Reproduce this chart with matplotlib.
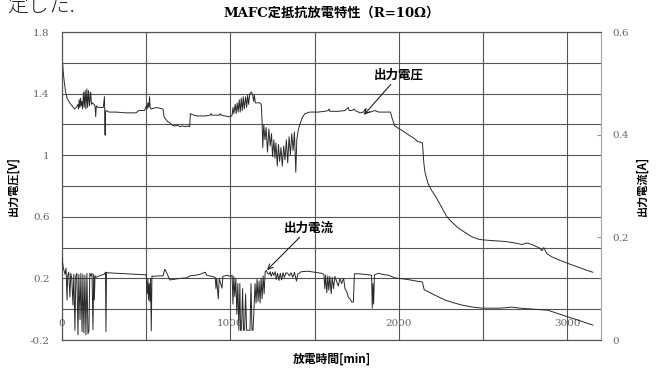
import numpy as np
import matplotlib
matplotlib.use("Agg")
import matplotlib.pyplot as plt

plt.rcParams['font.family'] = ['Noto Sans CJK JP', 'DejaVu Sans']

# discharge time [min] and output voltage [V]
volt_t = [0, 6, 12, 20, 30, 45, 60, 75, 85, 95,
          98, 102, 106, 110, 114, 118, 122, 128, 132, 138, 142, 148, 152, 158, 163, 170, 175,
          180, 190, 196, 200, 204, 215, 230, 245, 252, 254, 256, 258, 262, 280, 320, 380, 440,
          455, 490, 500, 505, 510, 515, 520, 523, 530, 560, 600, 606, 612, 625, 640, 655, 670,
          685, 700, 715, 730, 745, 758, 762, 770, 800, 850, 880, 885, 890, 935, 940, 945, 990,
          1000, 1010, 1015, 1020, 1028, 1034, 1040, 1046, 1052, 1058, 1064, 1070, 1076, 1082,
          1090, 1096, 1102, 1108, 1115, 1125, 1132, 1138, 1142, 1148, 1160, 1175, 1183, 1188,
          1192, 1198, 1205, 1212, 1220, 1228, 1236, 1244, 1250, 1258, 1264, 1270, 1278, 1285,
          1292, 1300, 1308, 1316, 1324, 1332, 1340, 1348, 1356, 1364, 1372, 1380, 1388, 1394,
          1402, 1412, 1425, 1442, 1472, 1520, 1560, 1580, 1585, 1590, 1640, 1680, 1700, 1705,
          1720, 1735, 1740, 1760, 1770, 1790, 1800, 1806, 1830, 1858, 1880, 1950, 1960, 1975,
          1990, 2020, 2060, 2090, 2110, 2140, 2148, 2155, 2172, 2195, 2214, 2250, 2285, 2320,
          2350, 2390, 2433, 2470, 2500, 2560, 2630, 2690, 2730, 2760, 2790, 2830, 2850, 2860,
          2880, 2908, 2950, 2997, 3060, 3110, 3151]
volt_v = [1.66, 1.56, 1.49, 1.42, 1.37, 1.34, 1.32, 1.30, 1.31, 1.33,
          1.30, 1.36, 1.31, 1.37, 1.32, 1.35, 1.30, 1.41, 1.31, 1.42, 1.30, 1.43, 1.31, 1.42, 1.32, 1.41, 1.33,
          1.34, 1.33, 1.32, 1.25, 1.32, 1.31, 1.31, 1.31, 1.38, 1.27, 1.13, 1.28, 1.29, 1.28, 1.28, 1.275, 1.275,
          1.29, 1.29, 1.32, 1.30, 1.34, 1.31, 1.38, 1.31, 1.30, 1.31, 1.30, 1.25, 1.24, 1.22, 1.21, 1.195, 1.19,
          1.195, 1.185, 1.19, 1.185, 1.19, 1.185, 1.27, 1.265, 1.255, 1.255, 1.26, 1.27, 1.26, 1.26, 1.27, 1.26, 1.25,
          1.25, 1.26, 1.31, 1.27, 1.33, 1.27, 1.34, 1.28, 1.36, 1.28, 1.37, 1.29, 1.38, 1.30,
          1.38, 1.31, 1.39, 1.33, 1.40, 1.41, 1.39, 1.35, 1.39, 1.34, 1.34, 1.34, 1.33, 1.22,
          1.05, 1.20, 1.10, 1.18, 1.02, 1.17, 1.06, 1.14, 0.99, 1.10, 0.98, 1.08, 0.93, 1.07,
          0.96, 1.05, 0.93, 1.06, 0.97, 1.10, 0.95, 1.12, 1.00, 1.14, 1.03, 1.15, 0.89, 1.10,
          1.16, 1.20, 1.24, 1.27, 1.28, 1.28, 1.285, 1.29, 1.30, 1.285, 1.285, 1.29, 1.31, 1.29,
          1.29, 1.30, 1.29, 1.28, 1.275, 1.28, 1.30, 1.275, 1.28, 1.29, 1.28, 1.28, 1.24, 1.19,
          1.18, 1.16, 1.13, 1.11, 1.09, 1.08, 0.95, 0.89, 0.82, 0.77, 0.74, 0.67, 0.60, 0.56,
          0.53, 0.50, 0.47, 0.455, 0.45, 0.445, 0.44, 0.43, 0.42, 0.43, 0.42, 0.40, 0.38, 0.40,
          0.36, 0.34, 0.32, 0.30, 0.275, 0.255, 0.24]

# discharge time [min] and output current [A]
curr_t = [0, 4, 8, 12, 18, 24, 30, 34, 40, 47, 52, 58, 65, 70, 77, 82, 88, 95, 100, 107,
          112, 119, 124, 130, 136, 142, 148, 154, 160, 165, 172, 178, 184, 188, 192, 196, 202,
          215, 230, 250, 258, 261, 264, 270, 320, 380, 440, 500, 506, 510, 514, 518, 522, 526,
          530, 534, 540, 580, 600, 610, 620, 640, 660, 700, 740, 760, 790, 820, 850, 860, 890,
          910, 914, 918, 928, 933, 950, 955, 980, 1000, 1010, 1015, 1020, 1026, 1032, 1038,
          1044, 1050, 1056, 1060, 1066, 1072, 1078, 1084, 1090, 1096, 1104, 1110, 1116, 1122,
          1128, 1134, 1140, 1146, 1152, 1158, 1164, 1170, 1176, 1182, 1188, 1194, 1200, 1206,
          1212, 1220, 1230, 1236, 1242, 1250, 1258, 1266, 1272, 1280, 1288, 1296, 1304, 1312,
          1320, 1330, 1340, 1350, 1360, 1370, 1380, 1392, 1400, 1420, 1460, 1500, 1540, 1555,
          1560, 1565, 1572, 1578, 1584, 1590, 1598, 1604, 1612, 1620, 1640, 1650, 1660, 1672,
          1680, 1690, 1700, 1710, 1720, 1730, 1736, 1760, 1790, 1820, 1838, 1842, 1846, 1850,
          1855, 1880, 1900, 1940, 1976, 2000, 2050, 2100, 2140, 2150, 2175, 2210, 2273, 2320,
          2374, 2440, 2500, 2600, 2671, 2720, 2800, 2884, 2940, 3003, 3080, 3151]
curr_a = [0.160, 0.150, 0.140, 0.135, 0.128, 0.140, 0.078, 0.125, 0.132, 0.084, 0.130, 0.120, 0.068, 0.128, 0.019, 0.125, 0.130, 0.010, 0.128, 0.040,
          0.130, 0.016, 0.128, 0.014, 0.126, 0.010, 0.130, 0.012, 0.018, 0.130, 0.125, 0.130, 0.020, 0.128, 0.078, 0.125, 0.122,
          0.124, 0.126, 0.128, 0.132, 0.016, 0.132, 0.131, 0.130, 0.129, 0.128, 0.127, 0.090, 0.120, 0.078, 0.110, 0.075, 0.120,
          0.018, 0.125, 0.124, 0.125, 0.125, 0.138, 0.132, 0.117, 0.118, 0.120, 0.121, 0.125, 0.126, 0.128, 0.132, 0.126, 0.124,
          0.122, 0.100, 0.120, 0.080, 0.120, 0.101, 0.124, 0.126, 0.124, 0.126, 0.070, 0.124, 0.085, 0.120, 0.050,
          0.110, 0.019, 0.110, 0.019, 0.019, 0.100, 0.019, 0.019, 0.090, 0.019, 0.019, 0.019, 0.019, 0.110,
          0.019, 0.019, 0.060, 0.110, 0.072, 0.118, 0.075, 0.115, 0.072, 0.120, 0.080, 0.125, 0.090, 0.132,
          0.136, 0.130, 0.128, 0.133, 0.124, 0.132, 0.126, 0.133, 0.118, 0.130, 0.116, 0.130, 0.117, 0.131,
          0.122, 0.131, 0.130, 0.125, 0.131, 0.122, 0.132, 0.115, 0.128, 0.133, 0.134, 0.132, 0.130, 0.128,
          0.100, 0.126, 0.092, 0.125, 0.097, 0.124, 0.090, 0.122, 0.100, 0.124, 0.105, 0.120, 0.110, 0.120,
          0.100, 0.095, 0.083, 0.080, 0.074, 0.074, 0.129, 0.129, 0.128, 0.127, 0.126, 0.062, 0.110, 0.070,
          0.127, 0.130, 0.128, 0.126, 0.121, 0.120, 0.118, 0.115, 0.113, 0.098, 0.094, 0.088, 0.078, 0.073,
          0.068, 0.064, 0.062, 0.062, 0.064, 0.062, 0.060, 0.058, 0.052, 0.045, 0.037, 0.029]

serif = ['DejaVu Serif']
grid_c = '#555555'
line_c = '#2a2a2a'
num_c = '#666666'

fig = plt.figure(figsize=(6.62, 3.72), dpi=100)
ax = fig.add_axes([62/662, 32/372, 539/662, 308/372])
ax2 = ax.twinx()

ax.plot(volt_t, volt_v, color=line_c, lw=0.7, zorder=3)
ax2.plot(curr_t, curr_a, color=line_c, lw=0.7, zorder=3)

ax.set_xlim(0, 3200)
ax.set_ylim(-0.2, 1.8)
ax2.set_ylim(0, 0.6)

ax.set_xticks([0, 1000, 2000, 3000])
ax.set_xticks(np.arange(0, 3201, 500), minor=True)
ax.set_yticks([-0.2, 0.2, 0.6, 1.0, 1.4, 1.8])
ax.set_yticklabels(['-0.2', '0.2', '0.6', '1', '1.4', '1.8'])
ax.set_yticks(np.arange(-0.2, 1.81, 0.2), minor=True)
ax.grid(True, which='both', color=grid_c, lw=0.8)
ax.set_axisbelow(True)

ax.tick_params(axis='x', which='both', length=0, pad=-15)
ax.tick_params(axis='y', which='both', length=0, pad=9)
for lab in ax.get_xticklabels() + ax.get_yticklabels():
    lab.set_family(serif)
    lab.set_fontsize(7.5)
    lab.set_color(num_c)

ax2.set_yticks([0, 0.2, 0.4, 0.6])
ax2.set_yticklabels(['0', '0.2', '0.4', '0.6'])
ax2.tick_params(axis='y', direction='in', length=3, color='#999999', pad=8)
for lab in ax2.get_yticklabels():
    lab.set_family(serif)
    lab.set_fontsize(7.5)
    lab.set_color(num_c)

for a in (ax, ax2):
    for side in ('left', 'top', 'bottom'):
        a.spines[side].set_color(grid_c)
        a.spines[side].set_linewidth(0.8)
    a.spines['right'].set_color('#aaaaaa')
    a.spines['right'].set_linewidth(0.8)

ax.set_xlabel('放電時間[min]', fontsize=8.5, fontweight='bold', labelpad=9)
ax.set_ylabel('出力電圧[V]', fontsize=8, fontweight='bold', labelpad=7)
ax2.set_ylabel('出力電流[A]', fontsize=8, fontweight='bold', rotation=90, labelpad=5)

ax.set_title('MAFC定抵抗放電特性（R=10Ω）', fontsize=9.5, fontweight='bold',
             family=['DejaVu Serif', 'Noto Sans CJK JP'], pad=11)

arrow = dict(arrowstyle='->', color='#222222', lw=0.8, shrinkA=0, shrinkB=0)
ax.annotate('出力電圧', xy=(1792, 1.262), xytext=(2001, 1.52), fontsize=9,
            fontweight='bold', ha='center', va='center', arrowprops=arrow)
ax.annotate('出力電流', xy=(1217, 0.254), xytext=(1466, 0.527), fontsize=9,
            fontweight='bold', ha='center', va='center', arrowprops=arrow)

fig.text(7/662, 1 - 6/372, '定した.', fontsize=15, fontweight='light',
         ha='left', va='center', color='#222222')

fig.savefig('out.png', dpi=100, facecolor='white')
